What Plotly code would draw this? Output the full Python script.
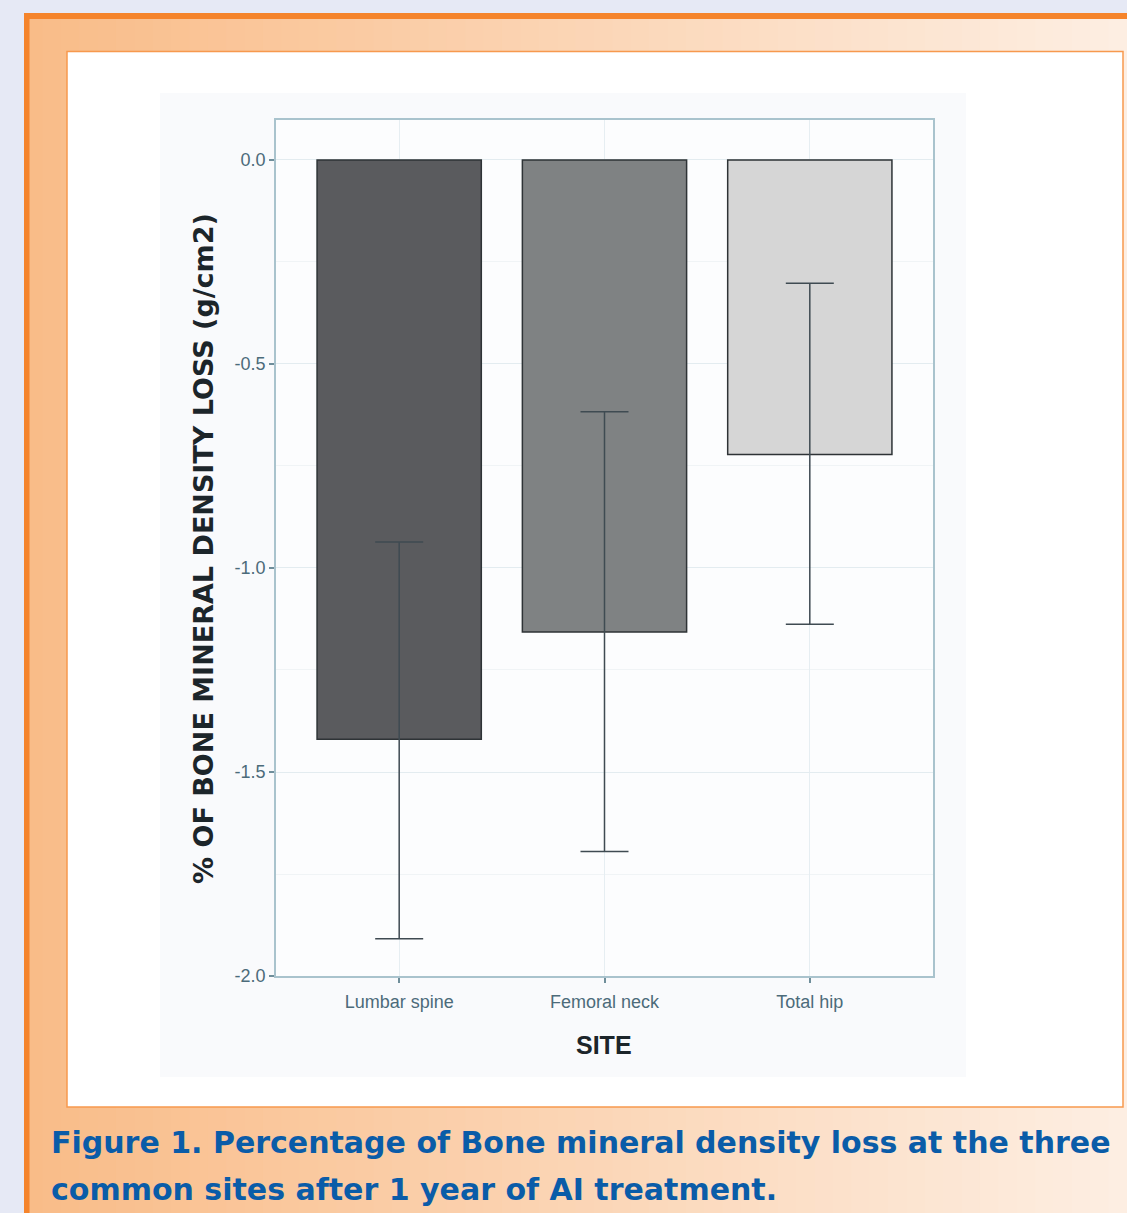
import plotly.graph_objects as go

# ---- data ----
sites = ["Lumbar spine", "Femoral neck", "Total hip"]
bmd_loss = [-1.42, -1.157, -0.722]
err_plus = [0.484, 0.54, 0.42]
err_minus = [0.489, 0.538, 0.416]
bar_colors = ["#5A5B5E", "#7F8283", "#D6D6D6"]
y_tickvals = [0.0, -0.5, -1.0, -1.5, -2.0]
y_ticktext = ["0.0", "-0.5", "-1.0", "-1.5", "-2.0"]
caption_lines = ["Figure 1. Percentage of Bone mineral density loss at the three",
                 "common sites after 1 year of AI treatment."]

W, H = 1127, 1213
H_EFF = 1203  # effective rendered paper height


def px(x):
    return x / W


def py(y):
    return 1 - y / H_EFF


fig = go.Figure()
fig.add_trace(go.Bar(
    x=sites, y=bmd_loss, width=0.8,
    marker=dict(color=bar_colors, line=dict(color="#2E3336", width=1.5)),
    error_y=dict(type="data", symmetric=False, array=err_plus, arrayminus=err_minus,
                 color="#3F4B52", thickness=1.5, width=24),
    showlegend=False,
))

shapes = []
# gradient orange frame
x0, x1 = 24, W
n = 60
c0 = (249, 188, 136)
c1 = (253, 238, 226)
for i in range(n):
    t = i / (n - 1)
    col = tuple(round(c0[k] + (c1[k] - c0[k]) * t) for k in range(3))
    xa = x0 + (x1 - x0) * i / n
    xb = x0 + (x1 - x0) * (i + 1) / n + 1
    shapes.append(dict(type="rect", xref="paper", yref="paper", layer="below",
                       x0=px(xa), x1=px(xb), y0=py(H + 60), y1=py(14),
                       fillcolor="rgb(%d,%d,%d)" % col, line=dict(width=0)))
# thick orange border top/left
shapes.append(dict(type="rect", xref="paper", yref="paper", layer="below",
                   x0=px(24), x1=px(W + 5), y0=py(19), y1=py(13),
                   fillcolor="#F5842B", line=dict(width=0)))
shapes.append(dict(type="rect", xref="paper", yref="paper", layer="below",
                   x0=px(24), x1=px(29.5), y0=py(H + 60), y1=py(13),
                   fillcolor="#F5842B", line=dict(width=0)))
# white inner panel
shapes.append(dict(type="rect", xref="paper", yref="paper", layer="below",
                   x0=px(67), x1=px(1123), y0=py(1107), y1=py(51.5),
                   fillcolor="#FFFFFF", line=dict(color="#F7994E", width=1.5)))
# chart background
shapes.append(dict(type="rect", xref="paper", yref="paper", layer="below",
                   x0=px(160), x1=px(966), y0=py(1077), y1=py(93),
                   fillcolor="#F9FAFC", line=dict(width=0)))
shapes.append(dict(type="rect", xref="paper", yref="paper", layer="below",
                   x0=px(276), x1=px(933), y0=py(976), y1=py(120),
                   fillcolor="#FCFDFE", line=dict(width=0)))

annotations = [
    dict(text="<b>% OF BONE MINERAL DENSITY LOSS (g/cm2)</b>", xref="paper", yref="paper",
         x=px(203), y=py(549), textangle=-90, showarrow=False,
         font=dict(family="DejaVu Sans, sans-serif", size=27, color="#1C252A"),
         xanchor="center", yanchor="middle"),
    dict(text="<b>SITE</b>", xref="paper", yref="paper",
         x=px(604), y=py(1045), showarrow=False,
         font=dict(family="Liberation Sans, Arial, sans-serif", size=25, color="#1C252A"),
         xanchor="center", yanchor="middle"),
]
for line, yc in zip(caption_lines, [1142, 1189]):
    annotations.append(dict(text="<b>" + line + "</b>", xref="paper", yref="paper",
                            x=px(49), y=py(yc), showarrow=False,
                            align="left", xanchor="left", yanchor="middle",
                            font=dict(family="DejaVu Sans, sans-serif", size=30, color="#0A5CA8")))

tickfont = dict(family="Liberation Sans, Arial, sans-serif", size=18, color="#4C6B7A")

fig.update_layout(
    width=W, height=H,
    margin=dict(l=0, r=0, t=0, b=0),
    paper_bgcolor="#E6E9F5",
    plot_bgcolor="rgba(0,0,0,0)",
    shapes=shapes,
    annotations=annotations,
    xaxis=dict(domain=[px(276), px(933)], range=[-0.6, 2.6], type="category",
               showline=True, mirror=True, linecolor="#A9C3CD", linewidth=1.5,
               ticks="outside", ticklen=5, tickcolor="#6F8E9A", tickwidth=1.5,
               ticklabelstandoff=4,
               showgrid=True, gridcolor="#E6EEF2", gridwidth=1,
               tickfont=tickfont, zeroline=False),
    yaxis=dict(domain=[py(976), py(120)], range=[-2.0, 0.098],
               tickvals=y_tickvals, ticktext=y_ticktext,
               showline=True, mirror=True, linecolor="#A9C3CD", linewidth=1.5,
               ticks="outside", ticklen=5, tickcolor="#6F8E9A", tickwidth=1.5,
               showgrid=True, gridcolor="#E3ECF0", gridwidth=1,
               minor=dict(dtick=0.25, showgrid=True, gridcolor="#F0F4F6", gridwidth=1),
               tickfont=tickfont, zeroline=False),
)

fig.write_html("out.html", config={"displayModeBar": False},
               post_script="document.body.style.margin='0';document.body.style.overflow='hidden';")
